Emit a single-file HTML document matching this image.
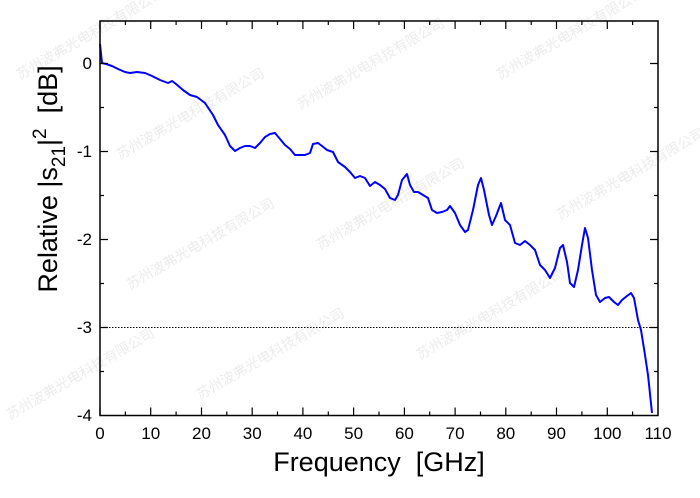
<!DOCTYPE html>
<html><head><meta charset="utf-8"><style>
html,body{margin:0;padding:0;background:#fff;width:700px;height:498px;overflow:hidden}
text{font-family:"Liberation Sans",Arial,sans-serif}
</style></head><body>
<svg width="700" height="498" xmlns="http://www.w3.org/2000/svg">
<g fill="#ececec" font-size="14" font-family="Liberation Sans, Noto Sans CJK SC, sans-serif">
<text transform="translate(20,80) rotate(-30)">苏州波弗光电科技有限公司</text>
<text transform="translate(120,160) rotate(-30)">苏州波弗光电科技有限公司</text>
<text transform="translate(300,110) rotate(-30)">苏州波弗光电科技有限公司</text>
<text transform="translate(500,80) rotate(-30)">苏州波弗光电科技有限公司</text>
<text transform="translate(130,290) rotate(-30)">苏州波弗光电科技有限公司</text>
<text transform="translate(320,250) rotate(-30)">苏州波弗光电科技有限公司</text>
<text transform="translate(200,400) rotate(-30)">苏州波弗光电科技有限公司</text>
<text transform="translate(420,360) rotate(-30)">苏州波弗光电科技有限公司</text>
<text transform="translate(560,220) rotate(-30)">苏州波弗光电科技有限公司</text>
<text transform="translate(10,420) rotate(-30)">苏州波弗光电科技有限公司</text>
</g>
<line x1="100" y1="327.5" x2="658" y2="327.5" stroke="#000" stroke-width="1" stroke-dasharray="1.5,1.5"/>
<polyline fill="none" stroke="#0000ff" stroke-width="2" stroke-linejoin="round" points="100,44 102,63 106,64 112,66 118,69 125,72 130,73 137,72 145,73 152,76 160,80 168,83 172,81 176,84 183,90 190,95 197,97 205,103 213,115 218,125 225,135 230,146 235,151 240,148 245,146 250,146 255,148 260,143 265,137 270,134 275,133 280,139 285,145 290,149 295,155 300,155 305,155 310,153 313,144 318,143 322,146 327,150 333,152 338,162 345,167 350,172 355,178 360,176 365,178 370,186 375,182 380,185 385,189 390,198 395,200 398,195 402,180 407,174 410,185 414,192 418,192 423,195 428,198 432,210 437,213 442,212 447,210 450,206 455,213 460,225 465,232 468,230 473,210 478,185 481,178 484,190 489,215 492,225 496,216 501,203 505,220 510,225 515,243 520,245 525,241 530,245 535,250 540,265 545,270 550,278 555,268 560,248 563,245 567,262 570,283 574,287 578,270 582,245 585,228 588,238 592,270 596,295 600,302 605,298 609,297 614,302 618,305 622,300 627,296 631,293 634,298 638,320 641,330 645,355 648,375 652,413"/>
<rect x="100" y="21" width="558" height="394.5" fill="none" stroke="#000" stroke-width="1.5"/>
<g stroke="#000" stroke-width="1.2">
<path d="M100.0,415.5v-8M100.0,21v8M150.7,415.5v-8M150.7,21v8M201.5,415.5v-8M201.5,21v8M252.2,415.5v-8M252.2,21v8M302.9,415.5v-8M302.9,21v8M353.6,415.5v-8M353.6,21v8M404.4,415.5v-8M404.4,21v8M455.1,415.5v-8M455.1,21v8M505.8,415.5v-8M505.8,21v8M556.5,415.5v-8M556.5,21v8M607.3,415.5v-8M607.3,21v8"/>
<path d="M125.4,415.5v-4M125.4,21v4M176.1,415.5v-4M176.1,21v4M226.8,415.5v-4M226.8,21v4M277.5,415.5v-4M277.5,21v4M328.3,415.5v-4M328.3,21v4M379,415.5v-4M379,21v4M429.7,415.5v-4M429.7,21v4M480.5,415.5v-4M480.5,21v4M531.2,415.5v-4M531.2,21v4M581.9,415.5v-4M581.9,21v4M632.6,415.5v-4M632.6,21v4"/>
<path d="M100,63.5h8M658,63.5h-8M100,151.5h8M658,151.5h-8M100,239.5h8M658,239.5h-8M100,327.5h8M658,327.5h-8"/>
<path d="M100,107.5h4M658,107.5h-4M100,195.5h4M658,195.5h-4M100,283.5h4M658,283.5h-4M100,371.5h4M658,371.5h-4"/>
</g>
<g font-size="17" fill="#000" text-anchor="middle">
<text x="100" y="439">0</text><text x="150.7" y="439">10</text><text x="201.5" y="439">20</text><text x="252.2" y="439">30</text><text x="302.9" y="439">40</text><text x="353.6" y="439">50</text><text x="404.4" y="439">60</text><text x="455.1" y="439">70</text><text x="505.8" y="439">80</text><text x="556.5" y="439">90</text><text x="607.3" y="439">100</text><text x="658" y="439">110</text>
</g>
<g font-size="17" fill="#000" text-anchor="end">
<text x="92" y="69">0</text><text x="92" y="157">-1</text><text x="92" y="245">-2</text><text x="92" y="333">-3</text><text x="92" y="421">-4</text>
</g>
<text x="379" y="471" font-size="27" text-anchor="middle" xml:space="preserve">Frequency  [GHz]</text>
<text transform="translate(57,179) rotate(-90)" font-size="27" text-anchor="middle">Relative |s<tspan font-size="19" dy="8">21</tspan><tspan dy="-8">|</tspan><tspan font-size="19" dy="-11">2</tspan><tspan dy="11" xml:space="preserve">  [dB]</tspan></text>
</svg>
</body></html>
